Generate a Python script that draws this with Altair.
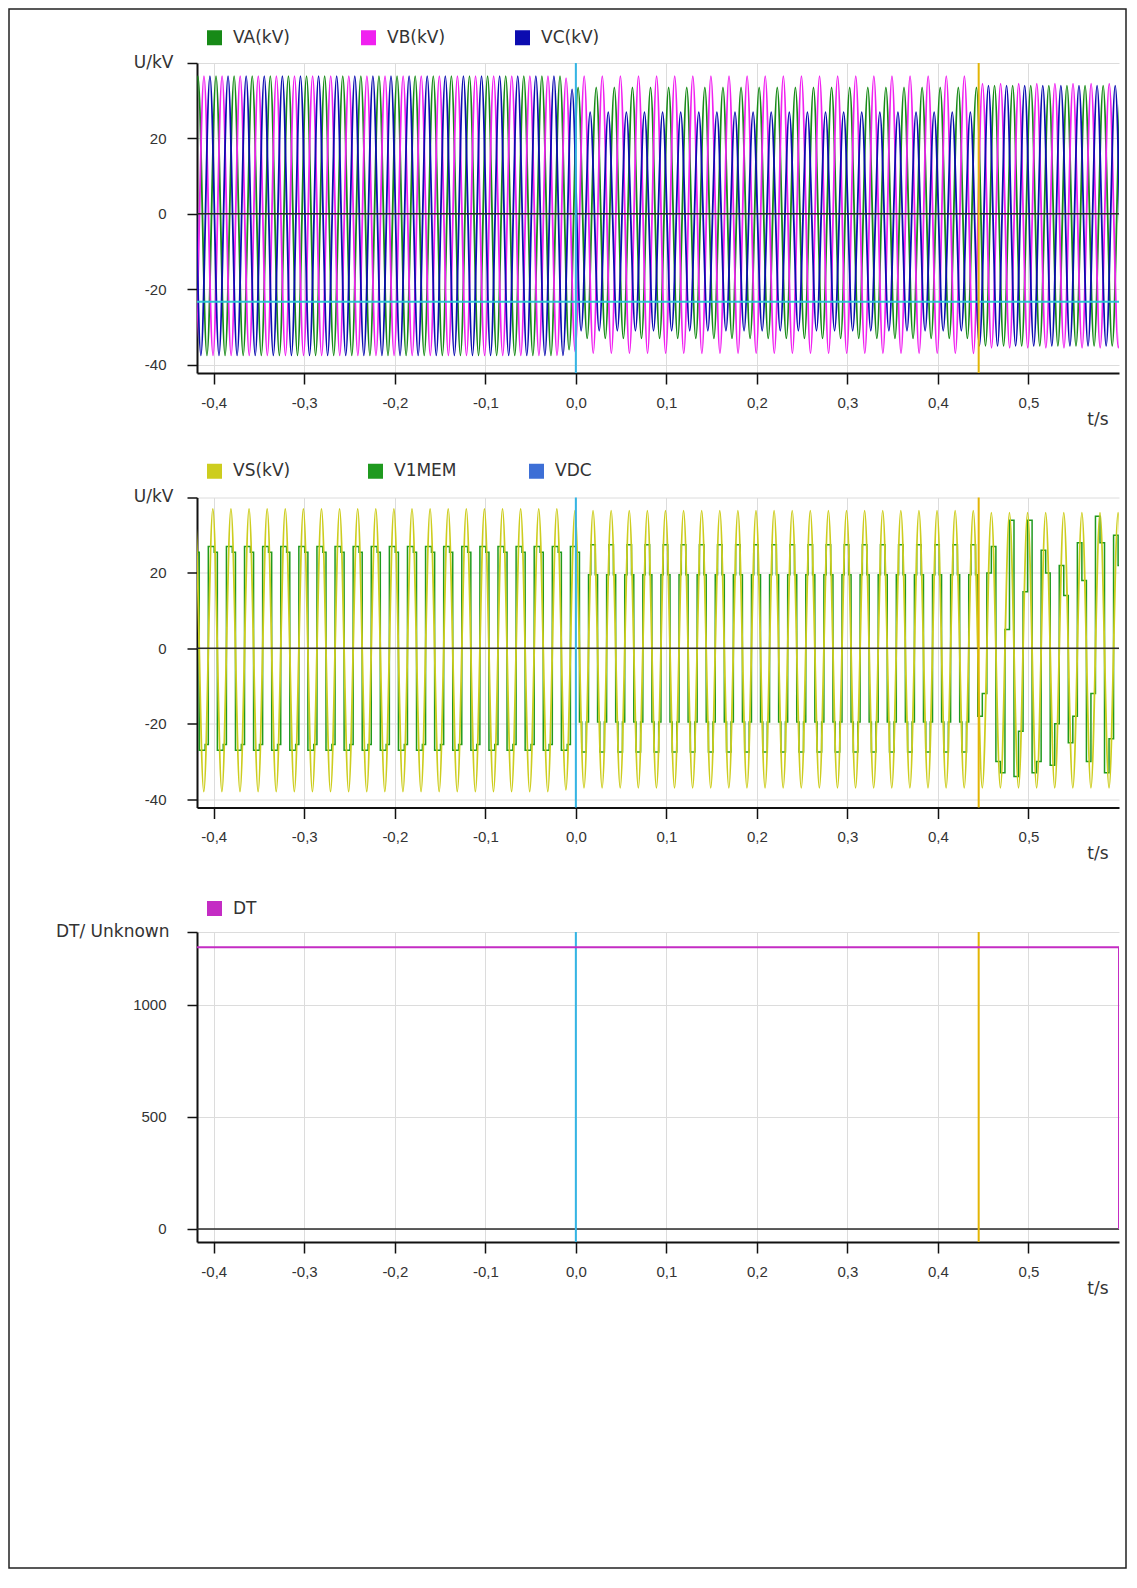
import pandas as pd
import altair as alt

# ---------------- values ----------------
T_DOMAIN = [-0.4185, 0.6]
U_DOMAIN = [-42.2, 40]
DT_DOMAIN = [-58, 1324]
x_ticks = [-0.4, -0.3, -0.2, -0.1, 0.0, 0.1, 0.2, 0.3, 0.4, 0.5]
u_ticks = [-40, -20, 0, 20, 40]
dt_ticks = [0, 500, 1000, 1324]

HALF_PERIOD = 0.01          # 50 Hz network
seg_start = [-0.5, -0.012, 0.0, 0.445]   # pre-fault, transition, fault, after breaker

# panel 1 : phase voltages, peak values per segment
p1_series = ["VA(kV)", "VB(kV)", "VC(kV)"]
p1_colors = ["#178a17", "#f020f0", "#0c0cb0"]
p1_first_peak = [-0.4175, -0.4108, -0.4042]
va_pos = [36.5, 35.0, 33.5, 34.0]
va_neg = [-37.5, -36.0, -33.0, -35.0]
vb_pos = [36.5, 36.0, 36.5, 34.5]
vb_neg = [-37.5, -36.5, -37.0, -35.5]
vc_pos = [36.5, 33.0, 27.0, 34.0]
vc_neg = [-37.5, -35.0, -31.0, -35.0]

# panel 2
p2_series = ["VS(kV)", "V1MEM", "VDC"]
p2_colors = ["#cdcd1e", "#1f9a1f", "#3d6fd6"]
vs_first_peak = -0.4010
vs_pos = [37.0, 36.5, 36.5, 36.0]
vs_neg = [-38.0, -37.5, -37.0, -37.0]
v1_pre_levels = [27.0, 25.5]
v1_pre_frac = [0.65, 0.35]
v1_mid_levels = [19.5, 27.5, 19.5]
v1_mid_frac = [0.25, 0.5, 0.25]
v1_post_levels = [[18, 12], [20, 27], [30, 33], [5, 34], [34, 22], [15, 34], [33, 30],
                  [26, 20], [31, 20], [22, 14], [25, 18], [28, 18], [30, 12], [35, 28],
                  [33, 24], [30, 22], [28, 20]]
v1_post_frac = [0.5, 0.5]

# panel 3
dt_series = ["DT"]
dt_colors = ["#c42cc4"]
dt_t = [-0.5, 0.6, 0.6]
dt_v = [1256, 1256, 0]

# cursors
cursor_t = [0.0, 0.445]
cursor_colors = ["#33b5e5", "#e3b505"]
hcursor_u = -23.3

# ---------------- build tables ----------------
def seg_of(t):
    idx = 0
    for j, s in enumerate(seg_start):
        if t >= s:
            idx = j
    return idx


def extremes(name, first_peak, pos, neg):
    rows = []
    for k in range(-3, 108):
        t = first_peak + k * HALF_PERIOD
        i = seg_of(t)
        rows.append({"t": t, "v": pos[i] if k % 2 == 0 else neg[i], "series": name})
    return rows


p1_rows = []
for name, fp, pos, neg in zip(p1_series, p1_first_peak, [va_pos, vb_pos, vc_pos], [va_neg, vb_neg, vc_neg]):
    p1_rows += extremes(name, fp, pos, neg)
p1_df = pd.DataFrame(p1_rows)

vs_df = pd.DataFrame(extremes("VS(kV)", vs_first_peak, vs_pos, vs_neg))

v1_rows = []
post_i = 0
for k in range(-3, 106):
    centre = vs_first_peak + k * HALF_PERIOD
    sign = 1 if k % 2 == 0 else -1
    start = centre - HALF_PERIOD / 2
    if start >= seg_start[3] - 0.003:
        levels = v1_post_levels[min(post_i, len(v1_post_levels) - 1)]
        fracs = v1_post_frac
        post_i += 1
    elif start >= seg_start[2] - 0.003:
        levels, fracs = v1_mid_levels, v1_mid_frac
    else:
        levels, fracs = v1_pre_levels, v1_pre_frac
    t = start
    for lev, f in zip(levels, fracs):
        v1_rows.append({"t": t, "v": sign * lev, "series": "V1MEM"})
        t += f * HALF_PERIOD
v1_df = pd.DataFrame(v1_rows)

dt_df = pd.DataFrame({"t": dt_t, "v": dt_v, "series": "DT", "i": list(range(len(dt_t)))})

# ---------------- chart ----------------
W, H = 922, 310
TXT = "#333333"
LABEL_FONT = "Liberation Sans"
TITLE_FONT = "DejaVu Sans"

x_label_expr = "(datum.value < 0 ? '-' : '') + replace(format(abs(datum.value), '.1f'), '.', ',')"


def x_enc():
    return alt.X(
        "t:Q",
        scale=alt.Scale(domain=T_DOMAIN, nice=False, zero=False),
        axis=alt.Axis(
            values=x_ticks, labelExpr=x_label_expr, labelFont=LABEL_FONT, labelFontSize=15,
            labelColor=TXT, labelPadding=11, labelOverlap=False, labelFlush=False,
            tickSize=11, tickColor="#111", tickWidth=1.5, domainColor="#111", domainWidth=2,
            grid=True, gridColor="#dcdcdc", gridWidth=1,
            title="t/s", titleFont=TITLE_FONT, titleFontSize=17, titleFontWeight="normal",
            titleColor=TXT, titleAlign="right", titleBaseline="alphabetic", titleX=911, titleY=51,
        ),
    )


def y_enc(domain, ticks, title, title_x):
    top = ticks[-1]
    return alt.Y(
        "v:Q",
        scale=alt.Scale(domain=domain, nice=False, zero=False),
        axis=alt.Axis(
            values=ticks,
            labelExpr=f"datum.value == {top} ? '' : (datum.value < 0 ? '-' : '') + format(abs(datum.value), 'd')",
            labelFont=LABEL_FONT, labelFontSize=15, labelColor=TXT, labelPadding=21,
            labelOverlap=False, labelFlush=False,
            tickSize=10, tickColor="#111", tickWidth=1.5, domainColor="#111", domainWidth=2,
            grid=True, gridColor="#dcdcdc", gridWidth=1,
            title=title, titleFont=TITLE_FONT, titleFontSize=17, titleFontWeight="normal",
            titleColor=TXT, titleAngle=0, titleAlign="right", titleBaseline="middle",
            titleX=title_x, titleY=-1,
        ),
    )


def make_legend(legend_y, colpad):
    return alt.Legend(
        title=None, orient="none", legendX=9, legendY=legend_y, direction="horizontal",
        symbolType="square", symbolSize=225, symbolStrokeWidth=0, symbolOpacity=1,
        labelFont=TITLE_FONT, labelFontSize=17, labelColor=TXT, labelOffset=10,
        columnPadding=colpad, gridAlign="all", padding=0, labelLimit=300,
    )


def color_enc(names, colors, legend):
    return alt.Color("series:N", scale=alt.Scale(domain=names, range=colors), legend=legend)


def legend_layer(names, colors, Y, legend):
    # one filled square per series, placed outside the time domain and clipped away;
    # it only provides filled legend swatches
    df = pd.DataFrame({"series": names, "t": [-1.0] * len(names), "v": [0.0] * len(names)})
    return alt.Chart(df).mark_square(filled=True, clip=True).encode(
        x=x_enc(), y=Y, color=color_enc(names, colors, legend)
    )


def common_layers(Y, hline=None):
    layers = []
    zero = alt.Chart(pd.DataFrame({"v": [0]})).mark_rule(color="#2a2a2a", strokeWidth=1.5).encode(y=Y)
    layers.append(zero)
    if hline is not None:
        layers.append(
            alt.Chart(pd.DataFrame({"v": [hline]})).mark_rule(color="#2ec4d4", strokeWidth=2).encode(y=Y)
        )
    for ct, cc in zip(cursor_t, cursor_colors):
        layers.append(
            alt.Chart(pd.DataFrame({"t": [ct]})).mark_rule(color=cc, strokeWidth=2).encode(x=x_enc())
        )
    return layers


# panel 1
Y1 = y_enc(U_DOMAIN, u_ticks, "U/kV", -24)
L1 = make_legend(-34, 68)
p1_lines = alt.Chart(p1_df).mark_line(strokeWidth=1.8, clip=True, interpolate="monotone").encode(
    x=x_enc(), y=Y1, color=color_enc(p1_series, p1_colors, L1), detail="series:N"
)
frame = alt.Chart(pd.DataFrame({"f": [1]})).mark_rect(
    fill="transparent", stroke="#222222", strokeWidth=1.5
).encode(x=alt.value(-188), x2=alt.value(929), y=alt.value(-54), y2=alt.value(1505))
p1 = alt.layer(
    legend_layer(p1_series, p1_colors, Y1, L1), p1_lines, *common_layers(Y1, hcursor_u), frame
).properties(width=W, height=H)

# panel 2
Y2 = y_enc(U_DOMAIN, u_ticks, "U/kV", -24)
L2 = make_legend(-35, 71)
v1_line = alt.Chart(v1_df).mark_line(strokeWidth=1.5, clip=True, interpolate="step-after").encode(
    x=x_enc(), y=Y2, color=color_enc(p2_series, p2_colors, L2)
)
vs_line = alt.Chart(vs_df).mark_line(strokeWidth=1.8, clip=True, interpolate="monotone").encode(
    x=x_enc(), y=Y2, color=color_enc(p2_series, p2_colors, L2)
)
p2 = alt.layer(
    legend_layer(p2_series, p2_colors, Y2, L2), v1_line, vs_line, *common_layers(Y2)
).properties(width=W, height=H)

# panel 3
Y3 = y_enc(DT_DOMAIN, dt_ticks, "DT/ Unknown", -28)
L3 = make_legend(-32, 72)
dt_line = alt.Chart(dt_df).mark_line(strokeWidth=2, clip=True).encode(
    x=x_enc(), y=Y3, color=color_enc(dt_series, dt_colors, L3), order="i:Q"
)
p3 = alt.layer(
    legend_layer(dt_series, dt_colors, Y3, L3), *common_layers(Y3), dt_line
).properties(width=W, height=H)

chart = (
    alt.vconcat(p1, p2, p3, spacing=124.5, bounds="flush")
    .resolve_scale(color="independent")
    .resolve_legend(color="independent")
    .configure_view(stroke=None)
    .properties(padding=0, background="white")
)

chart.save("out.html", embed_options={"renderer": "svg", "actions": False})
